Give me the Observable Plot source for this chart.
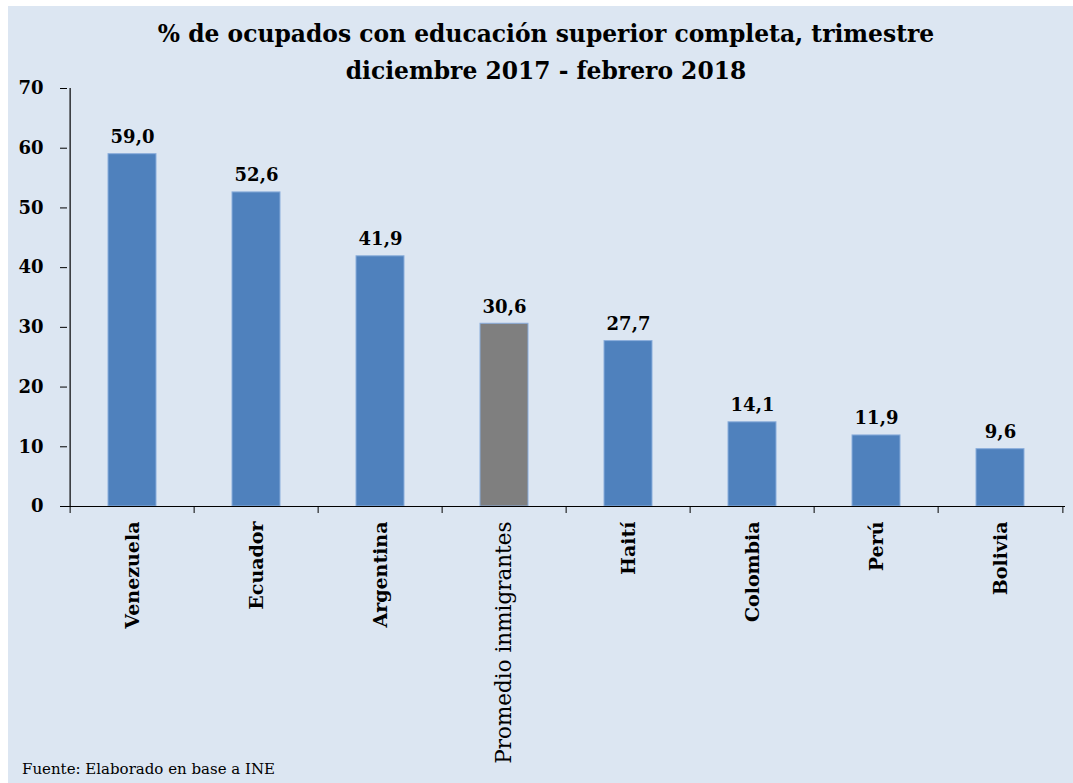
<!DOCTYPE html>
<html>
<head>
<meta charset="utf-8">
<script src="https://cdn.jsdelivr.net/npm/d3@7"></script>
<script src="https://cdn.jsdelivr.net/npm/@observablehq/plot@0.6"></script>
<style>
  html, body { margin: 0; padding: 0; background: #ffffff; }
  #wrap { position: absolute; left: 8px; top: 6px; width: 1065px; height: 777px; background: #dce6f2; overflow: hidden; }
  #title { position: absolute; left: 11px; top: 10px; width: 1054px; text-align: center;
           font-family: "DejaVu Serif", serif; font-weight: bold; font-size: 23.4px; line-height: 37px; color: #000; z-index: 2; }
  #chart { position: absolute; left: 0; top: 0; }
  #footer { position: absolute; left: 14px; top: 756px; font-family: "DejaVu Serif", serif; font-size: 15px; line-height: 15px; color: #000; }
</style>
</head>
<body>
<div id="wrap">
  <div id="title">% de ocupados con educación superior completa, trimestre<br>diciembre 2017 - febrero 2018</div>
  <div id="chart"></div>
  <div id="footer">Fuente: Elaborado en base a INE</div>
</div>
<script>
const categories = ["Venezuela", "Ecuador", "Argentina", "Promedio inmigrantes", "Haití", "Colombia", "Perú", "Bolivia"];
const values = [59.0, 52.6, 41.9, 30.6, 27.7, 14.1, 11.9, 9.6];
const groups = ["país", "país", "país", "promedio", "país", "país", "país", "país"];
const yTicks = [0, 10, 20, 30, 40, 50, 60, 70];

const data = categories.map((c, i) => ({pais: c, valor: values[i], grupo: groups[i]}));

const W = 1065, H = 777, mL = 59, mR = 8, mT = 82, mB = 277;
const step = (W - mL - mR) / categories.length;

const chart = Plot.plot({
  width: W,
  height: H,
  marginLeft: mL,
  marginRight: mR,
  marginTop: mT,
  marginBottom: mB,
  style: {background: "transparent", fontFamily: "DejaVu Serif", color: "#000", overflow: "visible"},
  x: {domain: categories, paddingInner: 0.61, paddingOuter: 0.305},
  y: {domain: [0, 70]},
  color: {domain: ["país", "promedio"], range: ["#4f81bd", "#7f7f7f"]},
  marks: [
    Plot.barY(data, {x: "pais", y: "valor", fill: "grupo", stroke: "#8aaddb", strokeWidth: 1}),
    Plot.ruleY([0], {stroke: "#000", strokeWidth: 1.2}),
    Plot.ruleX([categories[0]], {y1: 0, y2: 70, dx: -step / 2, stroke: "#000", strokeWidth: 1.2}),
    Plot.ruleX(categories, {y1: 0, y2: 0, insetBottom: -7, dx: -step / 2, stroke: "#000"}),
    Plot.ruleX([categories[categories.length - 1]], {y1: 0, y2: 0, insetBottom: -7, dx: step / 2, stroke: "#000"}),
    Plot.axisY({ticks: yTicks, tickSize: 7, tickPadding: 17, fontSize: 18, fontWeight: "bold", tickFormat: d => String(d), label: null}),
    Plot.axisX({tickSize: 0, tickPadding: 15, tickRotate: -90, fontSize: 19, fontWeight: "bold", label: null}),
    Plot.text(data, {x: "pais", y: "valor", text: d => d.valor.toFixed(1).replace(".", ","), dy: -11, lineAnchor: "bottom", fontSize: 18, fontWeight: "bold"})
  ]
});

d3.select(chart).selectAll("text").filter(function() { return this.textContent === "Promedio inmigrantes"; })
  .attr("font-weight", "normal").style("font-weight", "normal").attr("font-size", 21.5).style("font-size", "21.5px");

document.getElementById("chart").appendChild(chart);
</script>
</body>
</html>
